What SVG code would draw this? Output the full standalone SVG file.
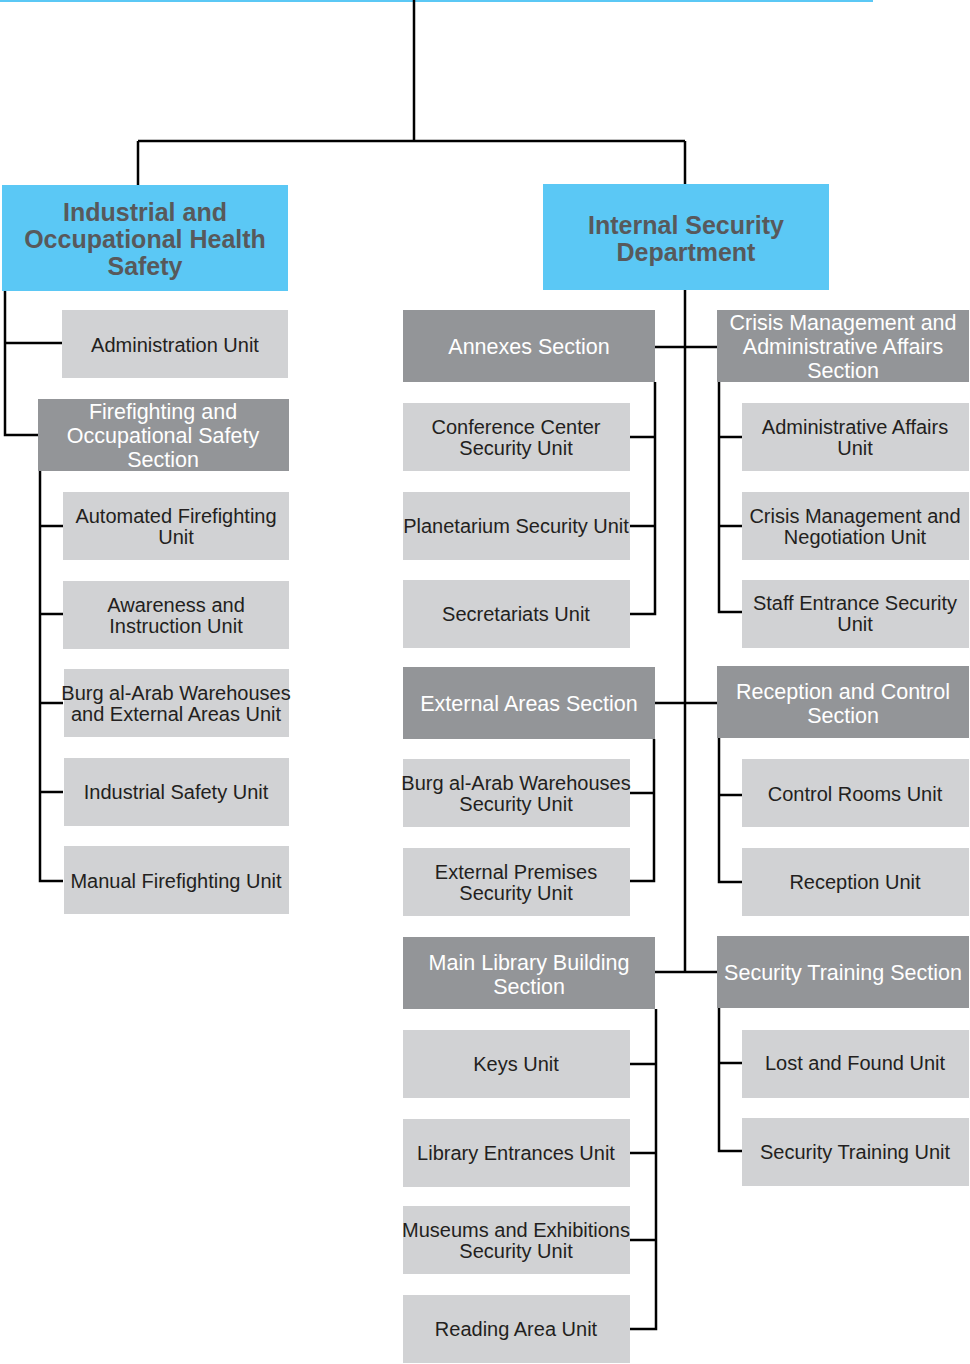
<svg xmlns="http://www.w3.org/2000/svg" width="970" height="1364" viewBox="0 0 970 1364">
<style>
.dept{fill:#5bc8f5}
.sec{fill:#939598}
.unit{fill:#d1d2d4}
.dt{font-family:"Liberation Sans",Arial,sans-serif;font-weight:bold;font-size:25px;fill:#58595b;text-anchor:middle}
.st{font-family:"Liberation Sans",Arial,sans-serif;font-size:21.5px;fill:#ffffff;text-anchor:middle}
.ut{font-family:"Liberation Sans",Arial,sans-serif;font-size:20px;fill:#231f20;text-anchor:middle}
.c{stroke:#000;stroke-width:2.5;fill:none}
</style>
<rect x="0" y="0" width="873" height="2" fill="#5bc8f5"/>
<g id="connectors" class="c">
<path d="M414 0V141M138 141H685M138 141V185M685 141V184"/>
<path d="M5 291V435H38M5 343H62"/>
<path d="M40 471V881H63M40 526H63M40 614H63M40 703H63M40 792H63"/>
<path d="M685 290V972M655 347H717M655 703H717M655 972H717"/>
<path d="M655 382V614H630M630 437H655M630 526H655"/>
<path d="M719 382V612H742M719 437H742M719 526H742"/>
<path d="M654 739V881H630M630 793H654"/>
<path d="M719 738V882H742M719 795H742"/>
<path d="M656 1009V1329H630M630 1064H656M630 1153H656M630 1240H656"/>
<path d="M719 1008V1151H742M719 1063H742"/>
</g>
<g id="iohs"><rect class="dept" x="2" y="185" width="286" height="106"/><text class="dt"><tspan x="145" y="221">Industrial and</tspan><tspan x="145" y="248">Occupational Health</tspan><tspan x="145" y="275">Safety</tspan></text></g>
<g id="isd"><rect class="dept" x="543" y="184" width="286" height="106"/><text class="dt"><tspan x="686" y="234">Internal Security</tspan><tspan x="686" y="261">Department</tspan></text></g>
<g id="admin-unit"><rect class="unit" x="62" y="310" width="226" height="68"/><text class="ut" x="175" y="352">Administration Unit</text></g>
<g id="fire-sec"><rect class="sec" x="38" y="399" width="251" height="72"/><text class="st"><tspan x="163" y="419">Firefighting and</tspan><tspan x="163" y="443">Occupational Safety</tspan><tspan x="163" y="467">Section</tspan></text></g>
<g id="auto-fire"><rect class="unit" x="63" y="492" width="226" height="68"/><text class="ut"><tspan x="176" y="523">Automated Firefighting</tspan><tspan x="176" y="544">Unit</tspan></text></g>
<g id="awareness"><rect class="unit" x="63" y="581" width="226" height="68"/><text class="ut"><tspan x="176" y="612">Awareness and</tspan><tspan x="176" y="633">Instruction Unit</tspan></text></g>
<g id="burg-ext"><rect class="unit" x="64" y="669" width="225" height="68"/><text class="ut"><tspan x="176" y="700">Burg al-Arab Warehouses</tspan><tspan x="176" y="721">and External Areas Unit</tspan></text></g>
<g id="ind-safety"><rect class="unit" x="64" y="758" width="225" height="68"/><text class="ut" x="176" y="799">Industrial Safety Unit</text></g>
<g id="manual-fire"><rect class="unit" x="64" y="846" width="225" height="68"/><text class="ut" x="176" y="888">Manual Firefighting Unit</text></g>
<g id="annexes"><rect class="sec" x="403" y="310" width="252" height="72"/><text class="st" x="529" y="354">Annexes Section</text></g>
<g id="conf"><rect class="unit" x="403" y="403" width="227" height="68"/><text class="ut"><tspan x="516" y="434">Conference Center</tspan><tspan x="516" y="455">Security Unit</tspan></text></g>
<g id="planet"><rect class="unit" x="403" y="492" width="227" height="68"/><text class="ut" x="516" y="533">Planetarium Security Unit</text></g>
<g id="secret"><rect class="unit" x="403" y="580" width="227" height="68"/><text class="ut" x="516" y="621">Secretariats Unit</text></g>
<g id="crisis-sec"><rect class="sec" x="717" y="310" width="252" height="72"/><text class="st"><tspan x="843" y="330">Crisis Management and</tspan><tspan x="843" y="354">Administrative Affairs</tspan><tspan x="843" y="378">Section</tspan></text></g>
<g id="adm-aff"><rect class="unit" x="742" y="403" width="227" height="68"/><text class="ut"><tspan x="855" y="434">Administrative Affairs</tspan><tspan x="855" y="455">Unit</tspan></text></g>
<g id="crisis-neg"><rect class="unit" x="742" y="492" width="227" height="68"/><text class="ut"><tspan x="855" y="523">Crisis Management and</tspan><tspan x="855" y="544">Negotiation Unit</tspan></text></g>
<g id="staff"><rect class="unit" x="742" y="580" width="227" height="68"/><text class="ut"><tspan x="855" y="610">Staff Entrance Security</tspan><tspan x="855" y="631">Unit</tspan></text></g>
<g id="ext-sec"><rect class="sec" x="403" y="667" width="252" height="72"/><text class="st" x="529" y="711">External Areas Section</text></g>
<g id="burg-sec"><rect class="unit" x="403" y="759" width="227" height="68"/><text class="ut"><tspan x="516" y="790">Burg al-Arab Warehouses</tspan><tspan x="516" y="811">Security Unit</tspan></text></g>
<g id="ext-prem"><rect class="unit" x="403" y="848" width="227" height="68"/><text class="ut"><tspan x="516" y="879">External Premises</tspan><tspan x="516" y="900">Security Unit</tspan></text></g>
<g id="recep-sec"><rect class="sec" x="717" y="666" width="252" height="72"/><text class="st"><tspan x="843" y="699">Reception and Control</tspan><tspan x="843" y="723">Section</tspan></text></g>
<g id="control"><rect class="unit" x="742" y="759" width="227" height="68"/><text class="ut" x="855" y="801">Control Rooms Unit</text></g>
<g id="reception"><rect class="unit" x="742" y="848" width="227" height="68"/><text class="ut" x="855" y="889">Reception Unit</text></g>
<g id="lib-sec"><rect class="sec" x="403" y="937" width="252" height="72"/><text class="st"><tspan x="529" y="970">Main Library Building</tspan><tspan x="529" y="994">Section</tspan></text></g>
<g id="keys"><rect class="unit" x="403" y="1030" width="227" height="68"/><text class="ut" x="516" y="1071">Keys Unit</text></g>
<g id="lib-ent"><rect class="unit" x="403" y="1119" width="227" height="68"/><text class="ut" x="516" y="1160">Library Entrances Unit</text></g>
<g id="museums"><rect class="unit" x="403" y="1206" width="227" height="68"/><text class="ut"><tspan x="516" y="1237">Museums and Exhibitions</tspan><tspan x="516" y="1258">Security Unit</tspan></text></g>
<g id="reading"><rect class="unit" x="403" y="1295" width="227" height="68"/><text class="ut" x="516" y="1336">Reading Area Unit</text></g>
<g id="train-sec"><rect class="sec" x="717" y="936" width="252" height="72"/><text class="st" x="843" y="980">Security Training Section</text></g>
<g id="lost"><rect class="unit" x="742" y="1030" width="227" height="68"/><text class="ut" x="855" y="1070">Lost and Found Unit</text></g>
<g id="train-unit"><rect class="unit" x="742" y="1118" width="227" height="68"/><text class="ut" x="855" y="1159">Security Training Unit</text></g>
</svg>
